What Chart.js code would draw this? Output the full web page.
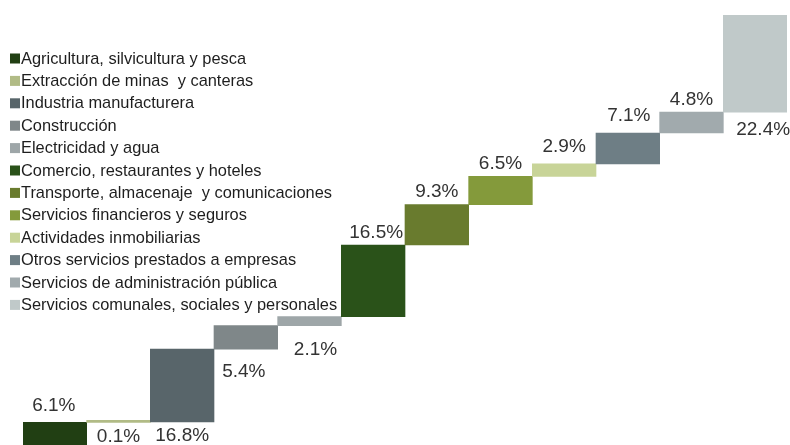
<!DOCTYPE html>
<html>
<head>
<meta charset="utf-8">
<script src="https://cdn.jsdelivr.net/npm/chart.js@4/dist/chart.umd.min.js"></script>
<style>
  html, body { margin: 0; padding: 0; background: #fff; }
  #wrap { width: 790px; height: 445px; }
</style>
</head>
<body>
<div id="wrap"><canvas id="cascada" width="790" height="445"></canvas></div>
<script>
// sectores del PIB y su participacion (%)
const sectores = [
  'Agricultura, silvicultura y pesca',
  'Extracción de minas  y canteras',
  'Industria manufacturera',
  'Construcción',
  'Electricidad y agua',
  'Comercio, restaurantes y hoteles',
  'Transporte, almacenaje  y comunicaciones',
  'Servicios financieros y seguros',
  'Actividades inmobiliarias',
  'Otros servicios prestados a empresas',
  'Servicios de administración pública',
  'Servicios comunales, sociales y personales'
];
const participacion = [6.1, 0.1, 16.8, 5.4, 2.1, 16.5, 9.3, 6.5, 2.9, 7.1, 4.8, 22.4];
const etiquetas = ['6.1%', '0.1%', '16.8%', '5.4%', '2.1%', '16.5%', '9.3%', '6.5%', '2.9%', '7.1%', '4.8%', '22.4%'];

const colores = [
  '#213f13', '#b1bb86', '#58656a', '#7f8789', '#9ea6a8', '#2a5219',
  '#697b2e', '#849a3b', '#c8d498', '#6e7e85', '#a1aaad', '#c0c9c9'
];

// barras flotantes: cada sector empieza donde termina el anterior
let acumulado = 0;
const tramos = participacion.map(v => {
  const t = [acumulado, +(acumulado + v).toFixed(1)];
  acumulado += v;
  return t;
});

// desplazamiento de cada etiqueta respecto al borde de su barra (negativo = arriba)
const etiquetaDy = [-17, 14, 14, 23, 24, -12, -13, -13, -17, -17, -12, 18];
const etiquetaDx = [-1, 0, 0, -2, 6, 3, 0, 0, 0, 1, 0, 8];

const leyendaPlugin = {
  id: 'leyenda',
  afterDraw(chart) {
    const ctx = chart.ctx;
    ctx.save();
    ctx.font = '16.4px "Liberation Sans", Arial, sans-serif';
    ctx.textBaseline = 'middle';
    ctx.textAlign = 'left';
    sectores.forEach((s, i) => {
      const y = 58.5 + i * 22.4;
      ctx.fillStyle = colores[i];
      ctx.fillRect(10, y - 5, 10, 10);
      ctx.fillStyle = '#1e1e1e';
      ctx.fillText(s, 21, y + 0.5);
    });
    ctx.restore();
  }
};

const etiquetasPlugin = {
  id: 'etiquetas',
  afterDatasetsDraw(chart) {
    const ctx = chart.ctx;
    const meta = chart.getDatasetMeta(0);
    ctx.save();
    ctx.font = '19px "Liberation Sans", Arial, sans-serif';
    ctx.fillStyle = '#333333';
    ctx.textAlign = 'center';
    ctx.textBaseline = 'middle';
    meta.data.forEach((bar, i) => {
      const dy = etiquetaDy[i];
      const borde = dy < 0 ? Math.min(bar.y, bar.base) : Math.max(bar.y, bar.base);
      ctx.fillText(etiquetas[i], bar.x + etiquetaDx[i], borde + dy);
    });
    ctx.restore();
  }
};

new Chart(document.getElementById('cascada'), {
  type: 'bar',
  data: {
    labels: sectores,
    datasets: [{
      data: tramos,
      backgroundColor: colores,
      borderWidth: 0,
      barPercentage: 1,
      categoryPercentage: 1,
      minBarLength: 2
    }]
  },
  options: {
    responsive: false,
    animation: false,
    layout: { padding: { left: 23, right: 3, top: 15, bottom: 0 } },
    scales: {
      x: { display: false, offset: true },
      y: { display: false, min: 0.9, max: 100 }
    },
    plugins: {
      legend: { display: false },
      tooltip: { enabled: false }
    }
  },
  plugins: [etiquetasPlugin, leyendaPlugin]
});
</script>
</body>
</html>
